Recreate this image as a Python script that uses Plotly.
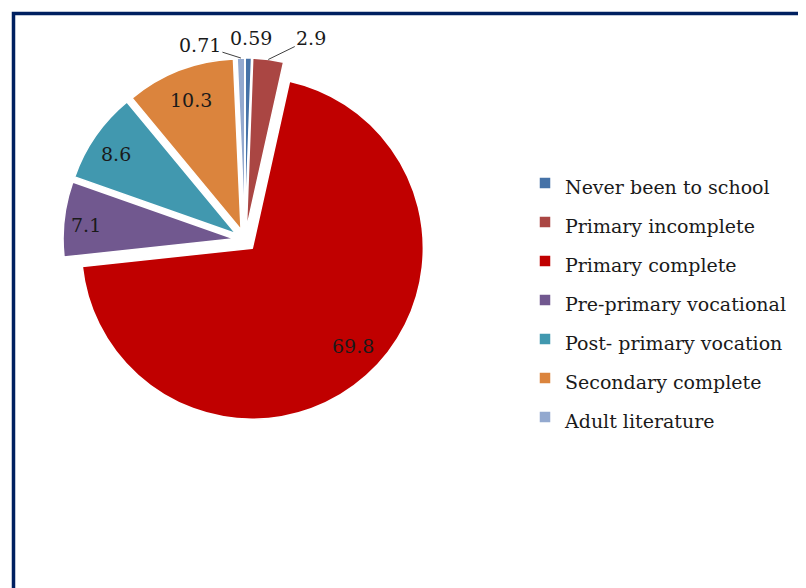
import math
import plotly.graph_objects as go

categories = ["Never been to school", "Primary incomplete", "Primary complete",
              "Pre-primary vocational", "Post- primary vocation", "Secondary complete",
              "Adult literature"]
values = [0.59, 2.9, 69.8, 7.1, 8.6, 10.3, 0.71]
value_labels = ["0.59", "2.9", "69.8", "7.1", "8.6", "10.3", "0.71"]

# styling
colors = ["#4572A7", "#AA4643", "#C00000", "#71588F", "#4198AF", "#DB843D", "#93A9CF"]
EXPLODE = 0.0643
pulls = [EXPLODE] * len(values)
# label placement: ("in", radial fraction, nudge x, nudge y) or ("out", dx px, dy px, arrow)
label_style = [("out", 3, -20, False), ("out", 43, -21, True), ("in", 0.82, 7, -7),
               ("in", 0.87, 0, 3), ("in", 0.84, -2, 2), ("in", 0.81, 0, -1),
               ("out", -41, -13, True)]

W, H = 806, 588
FONT = "DejaVu Serif"
TXT = "#1a1a1a"
DOM_X = [0.06824, 0.51985]
DOM_Y = [0.29592, 0.91497]

legend_names = ['<span style="font-size:19px">%s</span>' % c for c in categories]

fig = go.Figure(go.Pie(
    labels=legend_names,
    values=values,
    textinfo="none",
    sort=False,
    direction="clockwise",
    rotation=0,
    pull=pulls,
    automargin=False,
    marker=dict(colors=colors, line=dict(color="white", width=1.5)),
    domain=dict(x=DOM_X, y=DOM_Y),
    hoverinfo="skip",
))

# geometry of the pie as plotly lays it out (margins are zero)
box_w = (DOM_X[1] - DOM_X[0]) * W
box_h = (DOM_Y[1] - DOM_Y[0]) * H
R = min(box_w, box_h) / (2 + 2 * max(pulls))
cx = W * (DOM_X[0] + DOM_X[1]) / 2
cy = H * (1 - (DOM_Y[0] + DOM_Y[1]) / 2)
total = sum(values)

annotations = []
cum = 0.0
for v, lab, p, st in zip(values, value_labels, pulls, label_style):
    mid = 2 * math.pi * (cum + v / 2) / total
    cum += v
    dx, dy = math.sin(mid), -math.cos(mid)
    if st[0] == "in":
        r = (p + st[1]) * R
        px, py = cx + r * dx + st[2], cy + r * dy + st[3]
        annotations.append(dict(
            x=px / W, y=1 - py / H, xref="paper", yref="paper",
            text=lab, showarrow=False, xanchor="center", yanchor="middle",
            font=dict(family=FONT, size=19, color=TXT)))
    else:
        r = (1 + p) * R
        px, py = cx + r * dx, cy + r * dy
        if st[3]:
            annotations.append(dict(
                x=px / W, y=1 - py / H, xref="paper", yref="paper",
                text=lab, showarrow=True, ax=st[1], ay=st[2],
                arrowhead=0, arrowwidth=1, arrowcolor="#404040", standoff=0,
                font=dict(family=FONT, size=19, color=TXT)))
        else:
            annotations.append(dict(
                x=(px + st[1]) / W, y=1 - (py + st[2]) / H, xref="paper", yref="paper",
                text=lab, showarrow=False, xanchor="center", yanchor="middle",
                font=dict(family=FONT, size=19, color=TXT)))

fig.update_layout(
    width=W, height=H,
    margin=dict(l=0, r=0, t=0, b=0, autoexpand=False),
    paper_bgcolor="white",
    plot_bgcolor="white",
    showlegend=True,
    legend=dict(
        x=517 / W, y=1 - 150.5 / H, xanchor="left", yanchor="top",
        font=dict(family=FONT, size=27.7, color=TXT),
        bgcolor="rgba(0,0,0,0)",
    ),
    annotations=annotations,
    shapes=[dict(
        type="rect", xref="paper", yref="paper",
        x0=5.5 / W, x1=1.05, y0=-0.05, y1=1 - 5.5 / H,
        line=dict(color="#002060", width=3.5),
        fillcolor="rgba(0,0,0,0)", layer="above",
    )],
)

fig.write_html("out.html")
